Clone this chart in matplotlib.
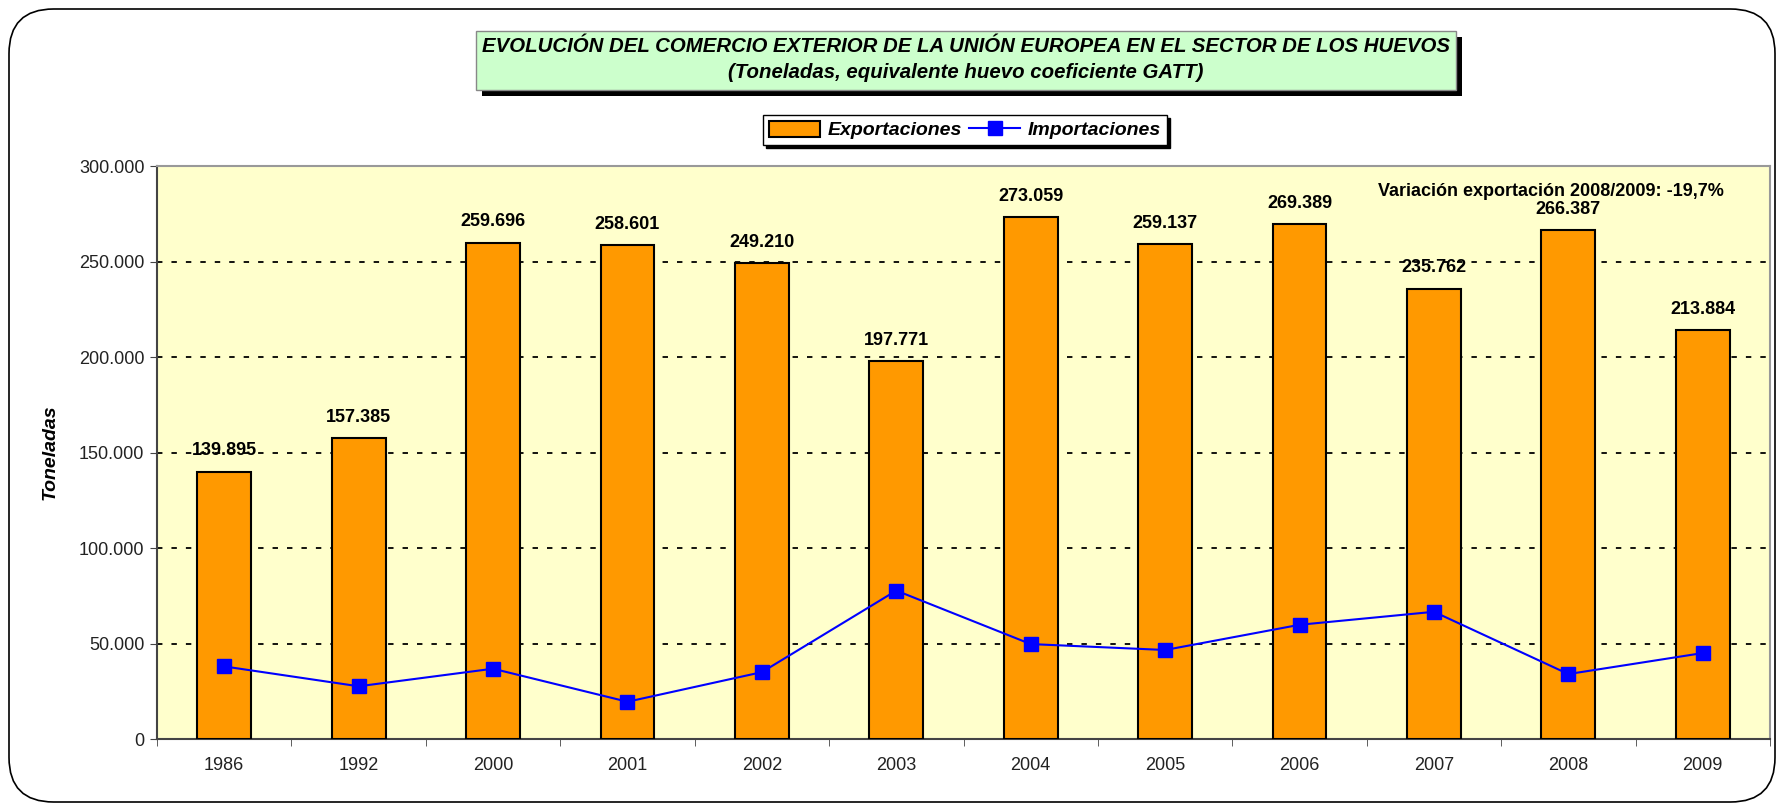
import matplotlib
matplotlib.use("Agg")
import matplotlib.pyplot as plt
from matplotlib.patches import FancyBboxPatch, Rectangle
from matplotlib.ticker import FuncFormatter, FixedLocator
import numpy as np

plt.rcParams['font.family'] = ['Liberation Sans', 'DejaVu Sans']

years = ["1986", "1992", "2000", "2001", "2002", "2003", "2004", "2005", "2006", "2007", "2008", "2009"]
exportaciones = [139895, 157385, 259696, 258601, 249210, 197771, 273059, 259137, 269389, 235762, 266387, 213884]
importaciones = [38000, 27600, 36800, 19500, 35000, 77700, 49700, 46600, 59800, 66600, 34000, 45000]

W, H = 1784, 805
fig = plt.figure(figsize=(W / 100, H / 100), dpi=100)

# outer rounded frame
frame = FancyBboxPatch((9 / W, 3 / H), (W - 18) / W, (H - 12) / H,
                       boxstyle="round,pad=0,rounding_size=0.025",
                       transform=fig.transFigure, facecolor="white",
                       edgecolor="black", lw=1.2, mutation_aspect=W / H, zorder=-10)
fig.patches.append(frame)

ax = fig.add_axes([157 / W, 1 - 739 / H, (1770 - 157) / W, (739 - 166) / H])
ax.set_facecolor("#FFFFCC")

x = np.arange(len(years))
bars = ax.bar(x, exportaciones, width=0.4, color="#FF9900", edgecolor="black", lw=1.5,
              label="Exportaciones", zorder=3)
line, = ax.plot(x, importaciones, color="#0000FF", lw=1.5, marker="s", markersize=10.5,
                label="Importaciones", zorder=4)

for xi, v in zip(x, exportaciones):
    ax.annotate(f"{v:,}".replace(",", "."), (xi, v), xytext=(0, 9),
                textcoords="offset points", ha="center", va="bottom",
                fontsize=13, fontweight="bold", zorder=5)

ax.set_xlim(-0.5, len(years) - 0.5)
ax.set_ylim(0, 300000)
ax.set_yticks(np.arange(0, 300001, 50000))
ax.yaxis.set_major_formatter(FuncFormatter(lambda v, p: f"{int(v):,}".replace(",", ".")))
ax.set_xticks(x)
ax.set_xticklabels(years)
ax.xaxis.set_minor_locator(FixedLocator(np.arange(-0.5, len(years), 1.0)))
ax.tick_params(axis="x", which="major", length=0, pad=13, labelsize=13, labelcolor="#222222")
ax.tick_params(axis="x", which="minor", length=5, color="#444444")
ax.tick_params(axis="y", length=5, color="#444444", labelsize=13, pad=4, labelcolor="#222222")

for y in range(50000, 300000, 50000):
    ax.axhline(y, color="black", lw=1.3, ls=(0, (3, 5)), zorder=1)

for s in ["left", "bottom"]:
    ax.spines[s].set_color("#444444")
    ax.spines[s].set_linewidth(1.5)
for s in ["top", "right"]:
    ax.spines[s].set_color("#999999")
    ax.spines[s].set_linewidth(1.5)

ax.set_ylabel("Toneladas", fontsize=14, fontweight="bold", style="italic")
ax.yaxis.set_label_coords((59 - 157) / (1770 - 157), 0.5)

ax.text(1551 / W, 1 - 191 / H, "Variación exportación 2008/2009: -19,7%", transform=fig.transFigure,
        ha="center", va="center", fontsize=13, fontweight="bold", zorder=6)

# title box with shadow
bx0, by0, bw, bh = 476 / W, 1 - 90 / H, (1456 - 476) / W, (90 - 31) / H
fig.patches.append(Rectangle((bx0 + 6 / W, by0 - 6 / H), bw, bh, transform=fig.transFigure,
                             facecolor="black", edgecolor="none"))
fig.patches.append(Rectangle((bx0, by0), bw, bh, transform=fig.transFigure,
                             facecolor="#CCFFCC", edgecolor="#888888", lw=1))
fig.text(bx0 + bw / 2, 1 - 47 / H, "EVOLUCIÓN DEL COMERCIO EXTERIOR DE LA UNIÓN EUROPEA EN EL SECTOR DE LOS HUEVOS",
         ha="center", va="center", fontsize=14.7, fontweight="bold", style="italic")
fig.text(bx0 + bw / 2, 1 - 73 / H, "(Toneladas, equivalente huevo coeficiente GATT)",
         ha="center", va="center", fontsize=14.7, fontweight="bold", style="italic")

leg = fig.legend([bars, line], ["Exportaciones", "Importaciones"], loc="center",
                 bbox_to_anchor=(965 / W, 1 - 130 / H), ncol=2,
                 frameon=True, fancybox=False, shadow={"color": "black", "alpha": 1},
                 edgecolor="black", prop={"size": 14, "weight": "bold", "style": "italic"},
                 handlelength=2.6, handleheight=0.9, handletextpad=0.4, columnspacing=0.4,
                 borderpad=0.3, borderaxespad=0)
leg.get_frame().set_linewidth(1)

fig.savefig("out.png", dpi=100)
